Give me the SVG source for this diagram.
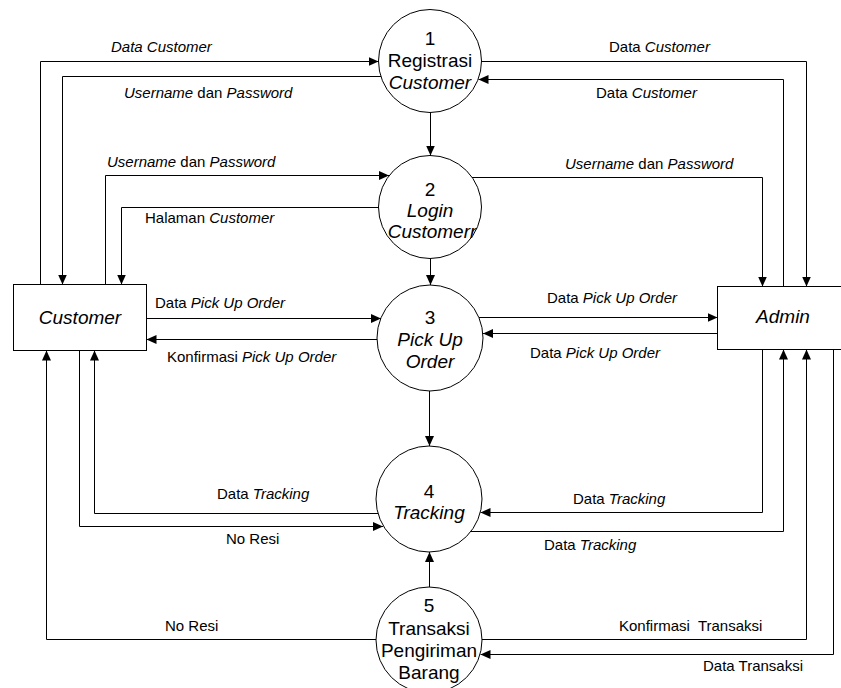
<svg xmlns="http://www.w3.org/2000/svg" width="841" height="688" viewBox="0 0 841 688">
<defs>
<style>
.node{fill:#fff;stroke:#000;stroke-width:1}
.nt{font-family:"Liberation Sans",Arial,sans-serif;font-size:19px;fill:#000;text-anchor:middle}
.et{font-family:"Liberation Sans",Arial,sans-serif;font-size:19px;fill:#000;text-anchor:middle;font-style:italic}
.lb{font-family:"Liberation Sans",Arial,sans-serif;font-size:15px;fill:#000}
.i{font-style:italic}
.c{fill:none;stroke:#000;stroke-width:1}
.a{marker-end:url(#ah)}
</style>
<marker id="ah" markerUnits="userSpaceOnUse" markerWidth="10" markerHeight="9" refX="10" refY="4.5" orient="auto">
<path d="M0,0 L10,4.5 L0,9 z" fill="#000"/>
</marker>
</defs>
<rect width="841" height="688" fill="#fff"/>

<g id="customer">
<rect class="node" x="13.5" y="284.5" width="133" height="66"/>
<text class="et" x="80" y="324">Customer</text>
</g>
<g id="admin">
<rect class="node" x="717.5" y="286.5" width="140" height="63"/>
<text class="et" x="783" y="323">Admin</text>
</g>
<g id="p1">
<circle class="node" cx="430" cy="61" r="51.5"/>
<text class="nt" x="430" y="45">1</text>
<text class="nt" x="430" y="67">Registrasi</text>
<text class="nt i" x="430" y="89">Customer</text>
</g>
<g id="p2">
<circle class="node" cx="430" cy="207" r="51.5"/>
<text class="nt" x="430" y="196">2</text>
<text class="nt i" x="430" y="217">Login</text>
<text class="nt i" x="432" y="238">Customerr</text>
</g>
<g id="p3">
<circle class="node" cx="430" cy="338" r="53"/>
<text class="nt" x="430" y="324">3</text>
<text class="nt i" x="430" y="346">Pick Up</text>
<text class="nt i" x="430" y="368">Order</text>
</g>
<g id="p4">
<circle class="node" cx="429" cy="499" r="53"/>
<text class="nt" x="429" y="498">4</text>
<text class="nt i" x="429" y="519">Tracking</text>
</g>
<g id="p5">
<circle class="node" cx="429" cy="640" r="53"/>
<text class="nt" x="429" y="612">5</text>
<text class="nt" x="429" y="635">Transaksi</text>
<text class="nt" x="429" y="657">Pengiriman</text>
<text class="nt" x="429" y="679">Barang</text>
</g>

<g id="connectors">
<polyline class="c a" points="40.5,284.5 40.5,61.5 378.5,61.5"/>
<polyline class="c a" points="381,76.5 62.5,76.5 62.5,284.5"/>
<polyline class="c a" points="105.5,284.5 105.5,175.5 389,175.5"/>
<polyline class="c a" points="378.5,207.5 121.5,207.5 121.5,284.5"/>
<polyline class="c a" points="481.5,61.5 806.5,61.5 806.5,286.5"/>
<polyline class="c a" points="783.5,286.5 783.5,79.5 478.5,79.5"/>
<polyline class="c a" points="472,177.5 762.5,177.5 762.5,286.5"/>
<line class="c a" x1="430.5" y1="112.5" x2="430.5" y2="155.5"/>
<line class="c a" x1="430.5" y1="258.5" x2="430.5" y2="285"/>
<line class="c a" x1="429.5" y1="391" x2="429.5" y2="446"/>
<line class="c a" x1="429.5" y1="587" x2="429.5" y2="552"/>
<line class="c a" x1="146.5" y1="318.5" x2="381" y2="318.5"/>
<line class="c a" x1="377" y1="339.5" x2="146.5" y2="339.5"/>
<line class="c a" x1="479" y1="317.5" x2="717.5" y2="317.5"/>
<line class="c a" x1="717.5" y1="333.5" x2="483" y2="333.5"/>
<polyline class="c a" points="378,513.5 94.5,513.5 94.5,350.5"/>
<polyline class="c a" points="79.5,350.5 79.5,526.5 383,526.5"/>
<polyline class="c a" points="376,639.5 46.5,639.5 46.5,350.5"/>
<polyline class="c a" points="762.5,349.5 762.5,512.5 480.5,512.5"/>
<polyline class="c a" points="471,531.5 783.5,531.5 783.5,349.5"/>
<polyline class="c a" points="482,639.5 806.5,639.5 806.5,349.5"/>
<polyline class="c a" points="833.5,349.5 833.5,654.5 480.5,654.5"/>
</g>

<g id="labels">
<text class="lb i" x="111" y="52">Data Customer</text>
<text class="lb" x="124" y="98"><tspan class="i">Username</tspan> dan <tspan class="i">Password</tspan></text>
<text class="lb" x="107" y="167"><tspan class="i">Username</tspan> dan <tspan class="i">Password</tspan></text>
<text class="lb" x="145" y="223">Halaman <tspan class="i">Customer</tspan></text>
<text class="lb" x="609" y="52">Data <tspan class="i">Customer</tspan></text>
<text class="lb" x="596" y="98">Data <tspan class="i">Customer</tspan></text>
<text class="lb" x="565" y="169"><tspan class="i">Username</tspan> dan <tspan class="i">Password</tspan></text>
<text class="lb" x="155" y="308">Data <tspan class="i">Pick Up Order</tspan></text>
<text class="lb" x="167" y="362">Konfirmasi <tspan class="i">Pick Up Order</tspan></text>
<text class="lb" x="547" y="303">Data <tspan class="i">Pick Up Order</tspan></text>
<text class="lb" x="530" y="358">Data <tspan class="i">Pick Up Order</tspan></text>
<text class="lb" x="217" y="499">Data <tspan class="i">Tracking</tspan></text>
<text class="lb" x="226" y="544">No Resi</text>
<text class="lb" x="165" y="631">No Resi</text>
<text class="lb" x="573" y="504">Data <tspan class="i">Tracking</tspan></text>
<text class="lb" x="544" y="550">Data <tspan class="i">Tracking</tspan></text>
<text class="lb" x="619" y="631" xml:space="preserve">Konfirmasi  Transaksi</text>
<text class="lb" x="703" y="671">Data Transaksi</text>
</g>
</svg>
